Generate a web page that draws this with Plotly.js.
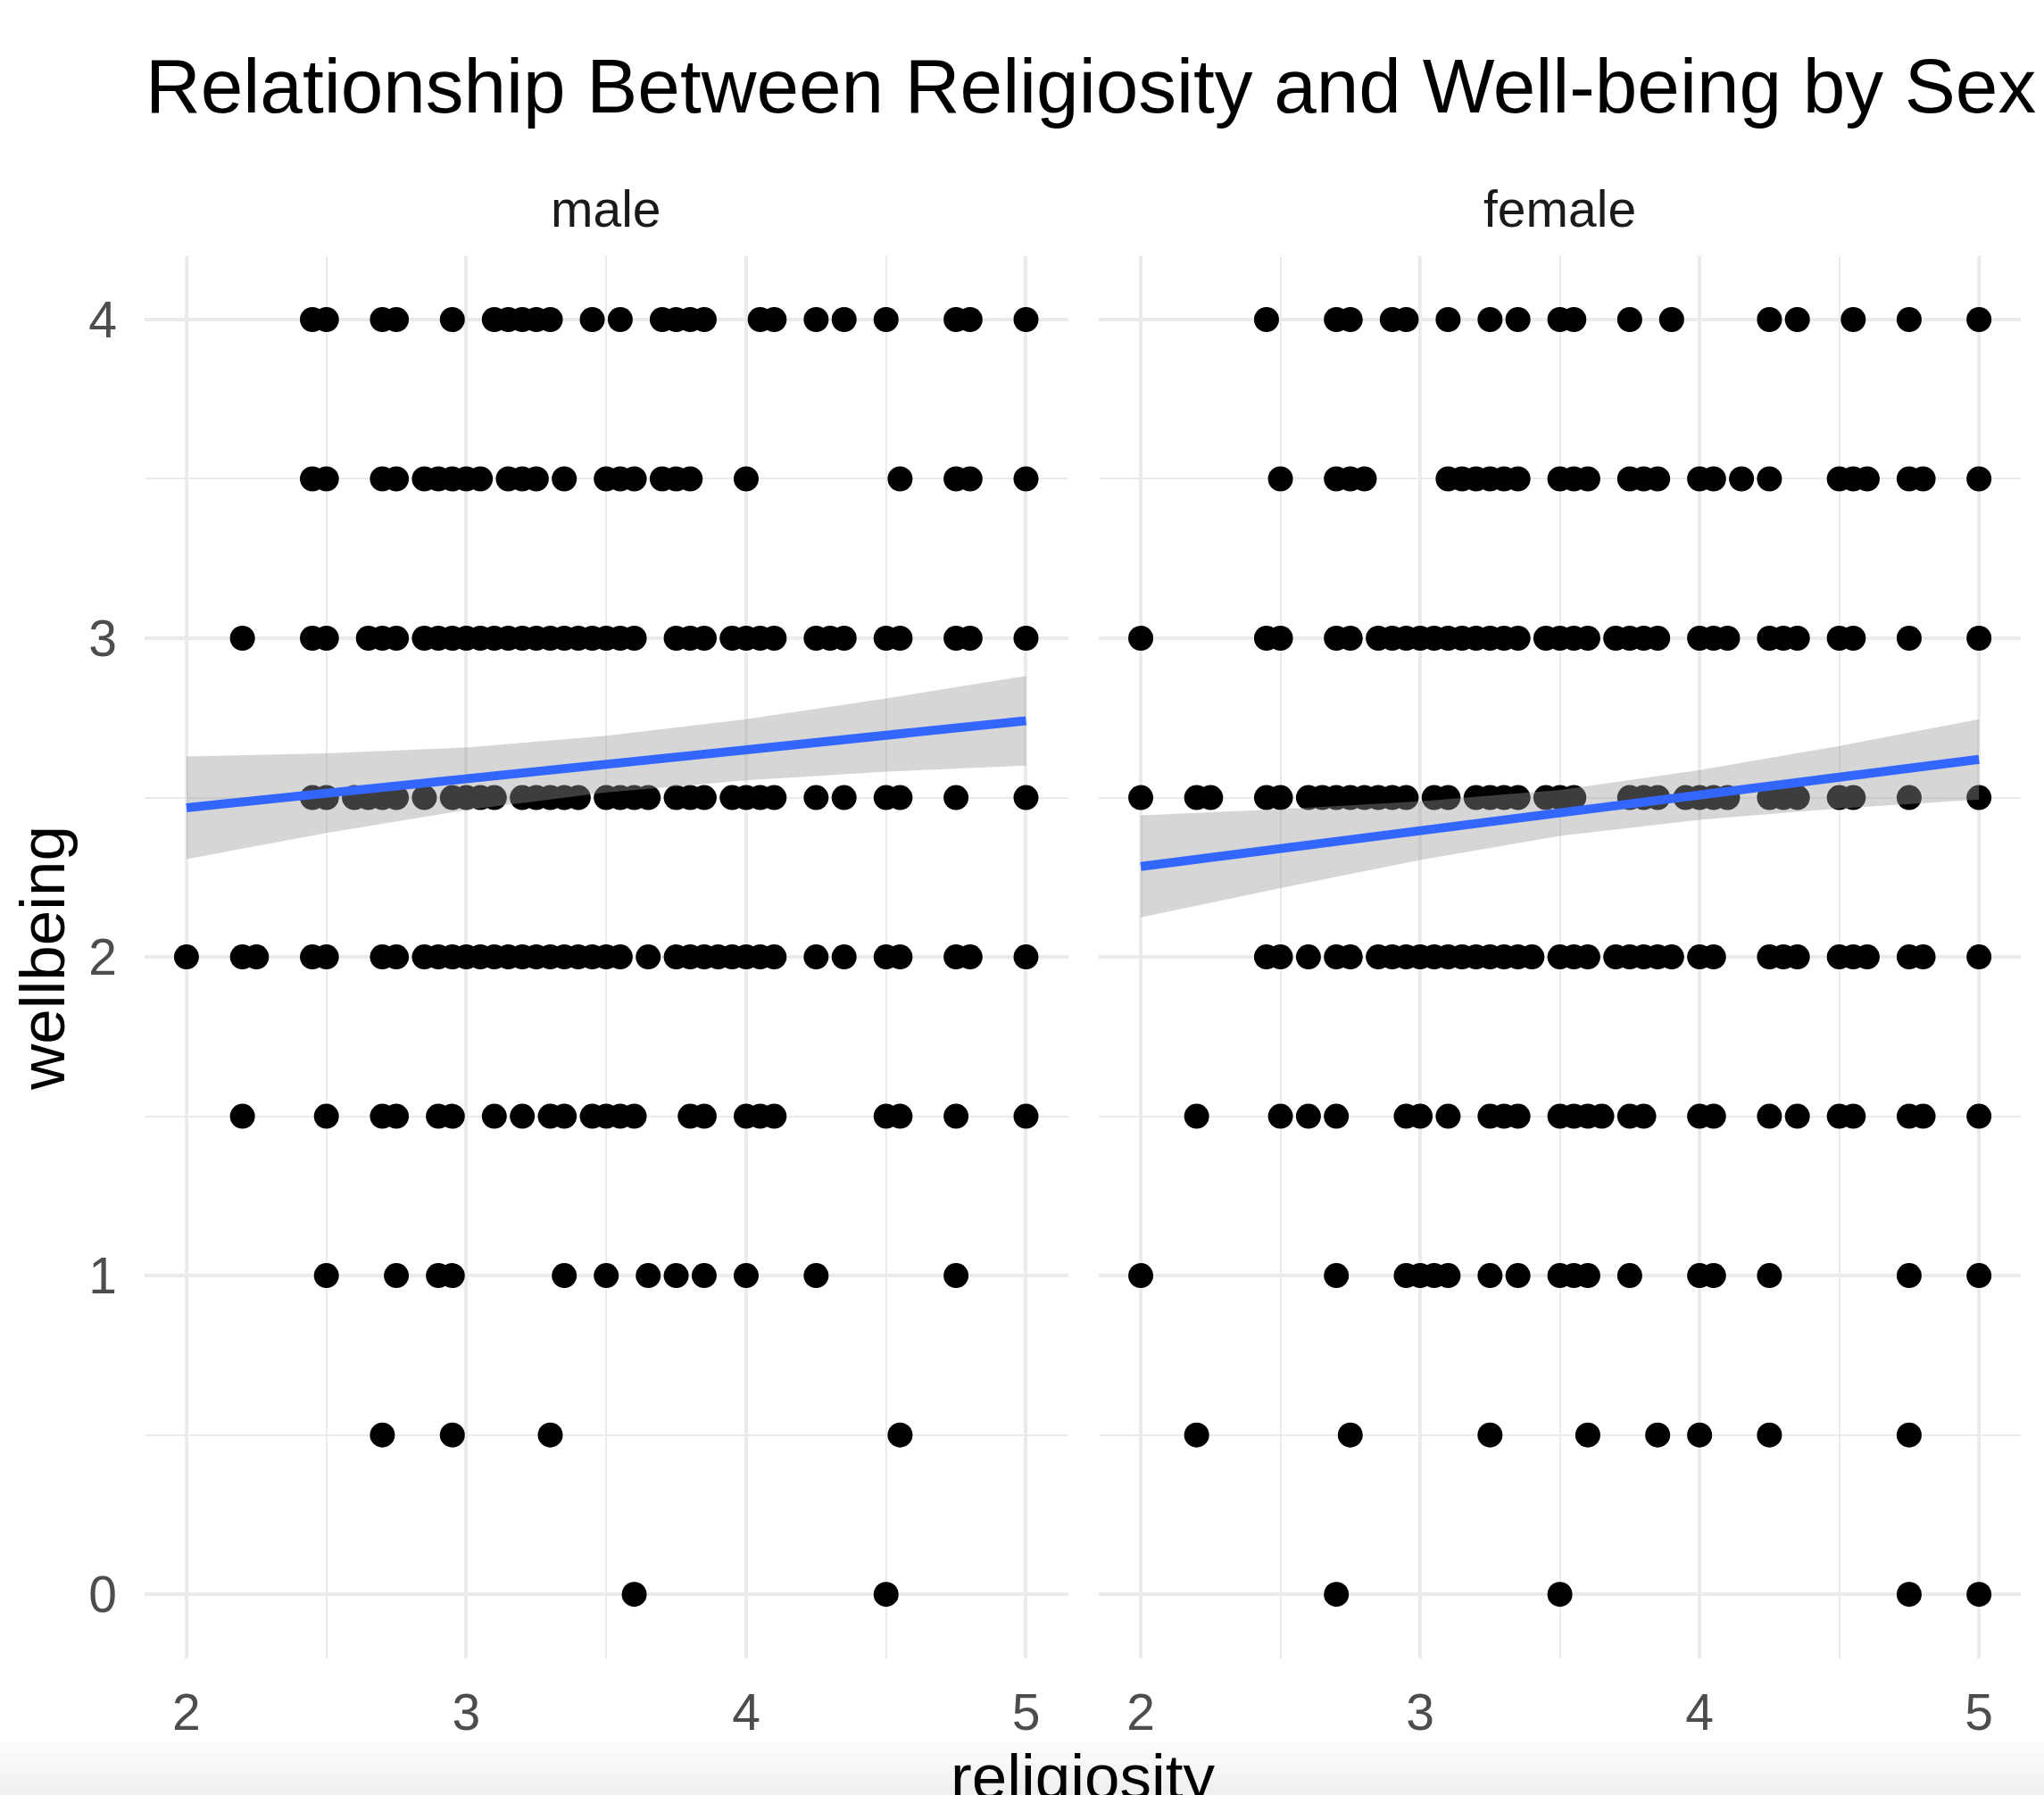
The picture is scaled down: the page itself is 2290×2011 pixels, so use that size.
<!DOCTYPE html>
<html>
<head>
<meta charset="utf-8">
<script src="https://cdn.plot.ly/plotly-3.0.1.min.js"></script>
<style>html,body{margin:0;padding:0;background:#fff;}#chart{width:2290px;height:2011px;}</style>
</head>
<body>
<div id="chart"></div>
<script>
// ---- Data: religiosity values of points per wellbeing level ----
const wellbeingLevels = [4, 3.5, 3, 2.5, 2, 1.5, 1, 0.5, 0];

const male_w4   = [2.45,2.50,2.70,2.75,2.95,3.10,3.15,3.20,3.25,3.30,3.45,3.55,3.70,3.75,3.80,3.85,4.05,4.10,4.25,4.35,4.50,4.75,4.80,5.00];
const male_w3_5 = [2.45,2.50,2.70,2.75,2.85,2.90,2.95,3.00,3.05,3.15,3.20,3.25,3.35,3.50,3.55,3.60,3.70,3.75,3.80,4.00,4.55,4.75,4.80,5.00];
const male_w3   = [2.20,2.45,2.50,2.65,2.70,2.75,2.85,2.90,2.95,3.00,3.05,3.10,3.15,3.20,3.25,3.30,3.35,3.40,3.45,3.50,3.55,3.60,3.75,3.80,3.85,3.95,4.00,4.05,4.10,4.25,4.30,4.35,4.50,4.55,4.75,4.80,5.00];
const male_w2_5 = [2.45,2.50,2.60,2.65,2.70,2.75,2.85,2.95,3.00,3.05,3.10,3.20,3.25,3.30,3.35,3.40,3.50,3.55,3.60,3.65,3.75,3.80,3.85,3.95,4.00,4.05,4.10,4.25,4.35,4.50,4.55,4.75,5.00];
const male_w2   = [2.00,2.20,2.25,2.45,2.50,2.70,2.75,2.85,2.90,2.95,3.00,3.05,3.10,3.15,3.20,3.25,3.30,3.35,3.40,3.45,3.50,3.55,3.65,3.75,3.80,3.85,3.90,3.95,4.00,4.05,4.10,4.25,4.35,4.50,4.55,4.75,4.80,5.00];
const male_w1_5 = [2.20,2.50,2.70,2.75,2.90,2.95,3.10,3.20,3.30,3.35,3.45,3.50,3.55,3.60,3.80,3.85,4.00,4.05,4.10,4.50,4.55,4.75,5.00];
const male_w1   = [2.50,2.75,2.90,2.95,3.35,3.50,3.65,3.75,3.85,4.00,4.25,4.75];
const male_w0_5 = [2.70,2.95,3.30,4.55];
const male_w0   = [3.60,4.50];

const female_w4   = [2.45,2.70,2.75,2.90,2.95,3.10,3.25,3.35,3.50,3.55,3.75,3.90,4.25,4.35,4.55,4.75,5.00];
const female_w3_5 = [2.50,2.70,2.75,2.80,3.10,3.15,3.20,3.25,3.30,3.35,3.50,3.55,3.60,3.75,3.80,3.85,4.00,4.05,4.15,4.25,4.50,4.55,4.60,4.75,4.80,5.00];
const female_w3   = [2.00,2.45,2.50,2.70,2.75,2.85,2.90,2.95,3.00,3.05,3.10,3.15,3.20,3.25,3.30,3.35,3.45,3.50,3.55,3.60,3.70,3.75,3.80,3.85,4.00,4.05,4.10,4.25,4.30,4.35,4.50,4.55,4.75,5.00];
const female_w2_5 = [2.00,2.20,2.25,2.45,2.50,2.60,2.65,2.70,2.75,2.80,2.85,2.90,2.95,3.05,3.10,3.20,3.25,3.30,3.35,3.45,3.50,3.55,3.75,3.80,3.85,3.95,4.00,4.05,4.10,4.25,4.30,4.35,4.50,4.55,4.75,5.00];
const female_w2   = [2.45,2.50,2.60,2.70,2.75,2.85,2.90,2.95,3.00,3.05,3.10,3.15,3.20,3.25,3.30,3.35,3.40,3.50,3.55,3.60,3.70,3.75,3.80,3.85,3.90,4.00,4.05,4.25,4.30,4.35,4.50,4.55,4.60,4.75,4.80,5.00];
const female_w1_5 = [2.20,2.50,2.60,2.70,2.95,3.00,3.10,3.25,3.30,3.35,3.50,3.55,3.60,3.65,3.75,3.80,4.00,4.05,4.25,4.35,4.50,4.55,4.75,4.80,5.00];
const female_w1   = [2.00,2.70,2.95,3.00,3.05,3.10,3.25,3.35,3.50,3.55,3.60,3.75,4.00,4.05,4.25,4.75,5.00];
const female_w0_5 = [2.20,2.75,3.25,3.60,3.85,4.00,4.25,4.75];
const female_w0   = [2.70,3.50,4.75,5.00];

// ---- Linear fit with 95% CI ----
const fit_x        = [2.0, 2.5, 3.0, 3.5, 4.0, 4.5, 5.0];
const male_fit     = [2.468, 2.514, 2.559, 2.605, 2.650, 2.696, 2.741];
const male_upper   = [2.629, 2.639, 2.657, 2.694, 2.746, 2.811, 2.882];
const male_lower   = [2.307, 2.389, 2.461, 2.516, 2.554, 2.581, 2.600];
const female_fit   = [2.284, 2.340, 2.396, 2.452, 2.508, 2.564, 2.620];
const female_upper = [2.444, 2.464, 2.488, 2.524, 2.586, 2.662, 2.746];
const female_lower = [2.124, 2.216, 2.304, 2.380, 2.430, 2.466, 2.494];

const panelNames = ["male", "female"];
const yTicks = [0, 1, 2, 3, 4];
const xTicks = [2, 3, 4, 5];

// ---- Build traces ----
function flatten(rows) {
  const xs = [], ys = [];
  rows.forEach((r, i) => r.forEach(v => { xs.push(v); ys.push(wellbeingLevels[i]); }));
  return {xs, ys};
}
const maleRows = [male_w4, male_w3_5, male_w3, male_w2_5, male_w2, male_w1_5, male_w1, male_w0_5, male_w0];
const femaleRows = [female_w4, female_w3_5, female_w3, female_w2_5, female_w2, female_w1_5, female_w1, female_w0_5, female_w0];
const m = flatten(maleRows), f = flatten(femaleRows);

function pts(d, xa, ya) {
  return {type: "scatter", mode: "markers", x: d.xs, y: d.ys, xaxis: xa, yaxis: ya,
          marker: {color: "#000000", size: 28, line: {width: 0}}, hoverinfo: "skip", showlegend: false};
}
function ribbon(up, lo, xa, ya) {
  return {type: "scatter", mode: "lines", x: fit_x.concat(fit_x.slice().reverse()),
          y: up.concat(lo.slice().reverse()), fill: "toself", fillcolor: "rgba(153,153,153,0.4)",
          line: {width: 0, color: "rgba(0,0,0,0)"}, xaxis: xa, yaxis: ya, hoverinfo: "skip", showlegend: false};
}
function fitLine(fy, xa, ya) {
  return {type: "scatter", mode: "lines", x: fit_x, y: fy, line: {color: "#3366FF", width: 10},
          xaxis: xa, yaxis: ya, hoverinfo: "skip", showlegend: false};
}

const data = [
  pts(m, "x", "y"), ribbon(male_upper, male_lower, "x", "y"), fitLine(male_fit, "x", "y"),
  pts(f, "x2", "y2"), ribbon(female_upper, female_lower, "x2", "y2"), fitLine(female_fit, "x2", "y2")
];

const FONT = "Liberation Sans, Arial, Helvetica, sans-serif";
const gridC = "#EBEBEB";
const maleDom = [0.0707, 0.5225];
const femaleDom = [0.5376, 0.9887];
const yDom = [0.0763, 0.8575];

function xAxis(dom, anchor) {
  return {domain: dom, anchor: anchor, range: [1.85, 5.15], tickvals: xTicks, ticktext: xTicks.map(String),
          showgrid: true, gridcolor: gridC, gridwidth: 4, zeroline: false, showline: false, ticks: "",
          ticklabelstandoff: 22,
          minor: {tickvals: [2.5, 3.5, 4.5], showgrid: true, gridcolor: gridC, gridwidth: 2, ticks: ""},
          tickfont: {family: FONT, size: 57, color: "#4D4D4D"}, fixedrange: true};
}
function yAxis(anchor, showLabels) {
  return {domain: yDom, anchor: anchor, range: [-0.2, 4.2], tickvals: yTicks, ticktext: yTicks.map(String),
          showticklabels: showLabels, showgrid: true, gridcolor: gridC, gridwidth: 4, zeroline: false,
          showline: false, ticks: "", ticklabelstandoff: 30,
          minor: {tickvals: [0.5, 1.5, 2.5, 3.5], showgrid: true, gridcolor: gridC, gridwidth: 2, ticks: ""},
          tickfont: {family: FONT, size: 57, color: "#4D4D4D"}, fixedrange: true};
}

const shapes = [];
[0.030, 0.024, 0.018, 0.012, 0.006].forEach(h => {
  shapes.push({type: "rect", xref: "paper", yref: "paper", x0: 0, x1: 1, y0: 0, y1: h,
               fillcolor: "rgba(0,0,0,0.012)", line: {width: 0}, layer: "below"});
});

const layout = {
  width: 2290, height: 2011,
  margin: {l: 0, r: 0, t: 0, b: 0, pad: 0},
  paper_bgcolor: "#FFFFFF", plot_bgcolor: "rgba(0,0,0,0)",
  font: {family: FONT, color: "#000000"},
  title: {text: "Relationship Between Religiosity and Well-being by Sex",
          font: {family: FONT, size: 85.5, color: "#000000"},
          x: 0.0712, xanchor: "left", xref: "paper", y: 0.952, yanchor: "middle", yref: "container"},
  xaxis: xAxis(maleDom, "y"),
  xaxis2: xAxis(femaleDom, "y2"),
  yaxis: yAxis("x", true),
  yaxis2: Object.assign(yAxis("x2", false), {matches: "y"}),
  showlegend: false,
  hovermode: false,
  shapes: shapes,
  annotations: [
    {text: panelNames[0], xref: "paper", yref: "paper", x: (maleDom[0] + maleDom[1]) / 2, y: 0.8836,
     xanchor: "center", yanchor: "middle", showarrow: false, font: {family: FONT, size: 57, color: "#1A1A1A"}},
    {text: panelNames[1], xref: "paper", yref: "paper", x: (femaleDom[0] + femaleDom[1]) / 2, y: 0.8836,
     xanchor: "center", yanchor: "middle", showarrow: false, font: {family: FONT, size: 57, color: "#1A1A1A"}},
    {text: "wellbeing", xref: "paper", yref: "paper", x: 0.0205, y: 0.4664, textangle: -90,
     xanchor: "center", yanchor: "middle", showarrow: false, font: {family: FONT, size: 71, color: "#000000"}},
    {text: "religiosity", xref: "paper", yref: "paper", x: 0.5297, y: 0.031,
     xanchor: "center", yanchor: "top", showarrow: false, font: {family: FONT, size: 71, color: "#000000"}}
  ]
};

Plotly.newPlot("chart", data, layout, {displayModeBar: false, staticPlot: true});
</script>
</body>
</html>
